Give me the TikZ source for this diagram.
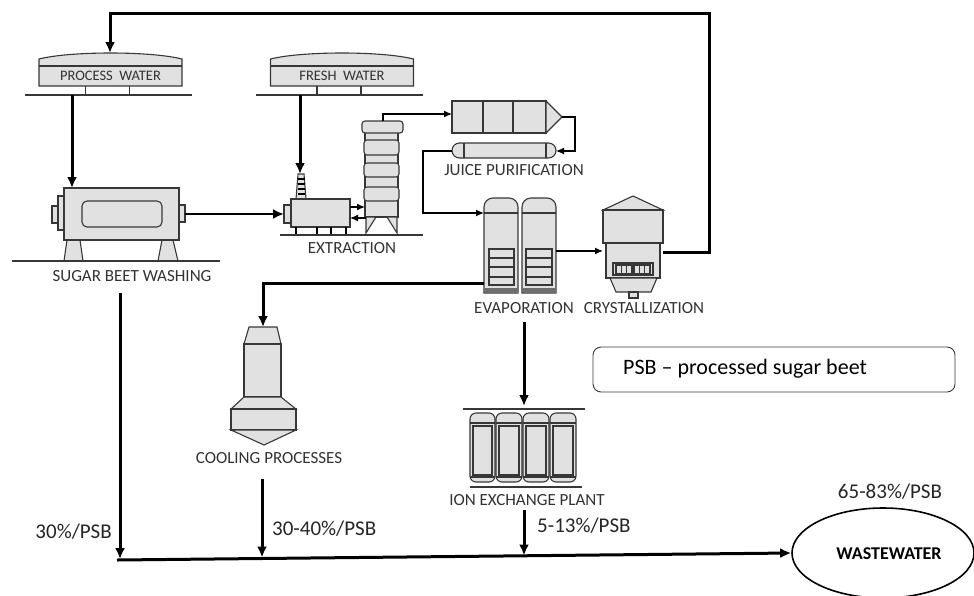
\documentclass[tikz,border=0pt]{standalone}
\usepackage{fontspec}
\setmainfont{Carlito}
\usetikzlibrary{arrows.meta,shapes.geometric}
\definecolor{eqfill}{RGB}{225,225,225}
\definecolor{eqdraw}{RGB}{55,55,55}
\definecolor{labc}{RGB}{50,50,50}
\definecolor{darkband}{RGB}{110,110,110}
\newcommand\myfs[1]{\fontsize{#1}{#1}\selectfont}
\begin{document}
\begin{tikzpicture}[x=1pt,y=-1pt,
  eq/.style={draw=eqdraw,fill=eqfill,line width=1.1pt},
  gline/.style={draw=eqdraw,line width=1.1pt},
  flow/.style={line width=3pt,-{Latex[length=11pt,width=10pt]}},
  thinflow/.style={line width=1.3pt,-{Latex[length=8pt,width=7pt]}},
  lab/.style={font=\myfs{17},text=labc,inner sep=0},
  pct/.style={font=\myfs{21},text=black!85,inner sep=0},
  pics/tank/.style={code={
    \draw[eq] (-71.5,0) -- (-71.5,-27) .. controls (-40,-35) and (40,-35) .. (71.5,-27) -- (71.5,0) -- cycle;
    \draw[gline] (-71.5,-20) -- (71.5,-20);
    \draw[gline] (-25,0) -- (-25,9) (19,0) -- (19,9);
    \draw[gline] (-86,9) -- (81,9);
  }}
]
\useasboundingbox (0,0) rectangle (974,595);

% ---------- tanks ----------
\pic at (110.5,86) {tank};
\node[lab,font=\myfs{14.5}] (pwlab) at (110.5,76) {PROCESS~~WATER};
\pic at (342,86) {tank};
\node[lab,font=\myfs{14.5}] (fwlab) at (342,76) {FRESH~~WATER};
\coordinate (pwtop) at (110,53);
\coordinate (pwout) at (72,95);
\coordinate (fwout) at (300,95);

% ---------- sugar beet washing ----------
\draw[eq] (67,240) -- (80,240) -- (83,261) -- (64,261) -- cycle;
\draw[eq] (162,240) -- (173,240) -- (178,261) -- (158,261) -- cycle;
\draw[eq] (64,188) rectangle (179,240);
\draw[eq,rounded corners=5pt] (82,201) rectangle (162,227);
\draw[eq] (58,196) rectangle (64,230);
\draw[eq] (52,206) rectangle (58,223);
\draw[eq] (179,205) rectangle (185,222);
\draw[gline] (12,261) -- (220,261);
\node[lab] (washlab) at (132,276) {SUGAR BEET WASHING};
\coordinate (washin) at (72,188);
\coordinate (washout) at (185,214);
\coordinate (washbot) at (120,293);

% ---------- extraction ----------
\draw[eq] (298,174) -- (304,174) -- (306,199) -- (296,199) -- cycle;
\foreach \yy in {179,184,189,194} \draw[line width=1.3pt] (297.6,\yy) -- (304.8,\yy);
\draw[eq] (291,199) rectangle (350,227);
\draw[eq] (284,205) rectangle (291,223);
\foreach \xx in {296,317,331,346} \draw[line width=2.2pt] (\xx,227) -- (\xx,235);
\draw[gline] (280,235) -- (423,235);
\node[lab] (exlab) at (352,248) {EXTRACTION};
\coordinate (exin) at (284,214);
\coordinate (chimtop) at (300,174);
% tower
\draw[eq] (365,130) rectangle (398,217);
\draw[eq,rounded corners=3pt] (362,121) rectangle (403,133);
\foreach \a/\b in {140/155,163/177,187/201} \draw[eq,rounded corners=3pt] (364,\a) rectangle (399,\b);
\draw[eq] (366,217) -- (376,217) -- (366,233) -- cycle;
\draw[eq] (397,217) -- (387,217) -- (397,233) -- cycle;
\coordinate (boxr1) at (350,207);
\coordinate (towl1) at (365,207);
\coordinate (towl2) at (366,218);
\coordinate (boxr2) at (350,218);
\coordinate (towtop) at (383,121);

% ---------- juice purification ----------
\draw[eq] (452,101) rectangle (546,133);
\draw[gline] (483,101) -- (483,133) (513,101) -- (513,133);
\draw[eq] (546,101) -- (562,117) -- (546,133) -- cycle;
\draw[eq,rounded corners=7.5pt] (452,143) rectangle (556,158);
\draw[gline] (464,143) -- (464,158) (546,143) -- (546,158);
\node[lab] (jplab) at (514,170) {JUICE PURIFICATION};
\coordinate (jp1in) at (452,114);
\coordinate (jptip) at (562,117);
\coordinate (jpturn) at (575,117);
\coordinate (jp2in) at (556,151);
\coordinate (jp2out) at (452,151);
\coordinate (jpleft) at (423,180);

% ---------- evaporation ----------
\foreach \l/\r in {484/518,522/556} {
  \draw[eq] (\l,293) -- (\l,207) arc[start angle=180,end angle=270,radius=9] -- (\r-9,198)
     arc[start angle=270,end angle=360,radius=9] -- (\r,293) -- cycle;
  \draw[gline] (\l,213) -- (\r,213);
  \fill[darkband] (\l+0.5,288) rectangle (\r-0.5,292.5);
}
\foreach \l/\r in {489/514,526/552} {
  \draw[eq] (\l,249) rectangle (\r,285);
  \draw[gline] (\l,258) -- (\r,258) (\l,267) -- (\r,267) (\l,277) -- (\r,277);
}
\node[lab] (evlab) at (524,308) {EVAPORATION};
\coordinate (evin) at (484,213);
\coordinate (evout) at (556,251);
\coordinate (evleft) at (484,283);
\coordinate (evbot) at (524,322);

% ---------- crystallization ----------
\draw[eq] (603,210) -- (633,196) -- (663,210) -- cycle;
\draw[eq] (603,210) rectangle (663,243);
\draw[eq] (606,243) rectangle (660,278);
\draw[eq] (610,278) -- (657,278) -- (651,292) -- (616,292) -- cycle;
\draw[eq] (629,292) rectangle (638,298);
\draw[eq] (613,263) rectangle (653,275);
\draw[gline] (616,265) rectangle (632,274) (634,265) rectangle (650,274);
\draw[gline] (621.3,265) -- (621.3,274) (626.6,265) -- (626.6,274)
             (639.3,265) -- (639.3,274) (644.6,265) -- (644.6,274);
\node[lab] (crlab) at (644,308) {CRYSTALLIZATION};
\coordinate (crin) at (603,251);
\coordinate (crout) at (663,252);
\coordinate (loopc) at (709,13);

% ---------- cooling ----------
\draw[eq] (249,327) -- (277,327) -- (281,344) -- (244,344) -- cycle;
\draw[eq] (244,344) rectangle (281,397);
\draw[eq] (244,397) -- (281,397) -- (296,409) -- (231,409) -- cycle;
\draw[eq] (231,409) rectangle (296,430);
\draw[eq] (231,430) -- (264,445) -- (296,430) -- cycle;
\node[lab] (coollab) at (269,458) {COOLING PROCESSES};
\coordinate (coolin) at (263,327);
\coordinate (coolout) at (262,479);

% ---------- ion exchange ----------
\draw[gline] (463,409) -- (585,409);
\foreach \l/\r in {470/495,496/522,523/549,550/576} {
  \draw[eq,rounded corners=6pt] (\l,413) rectangle (\r,482);
  \draw[gline] (\l,423) -- (\r,423) (\l,477) -- (\r,477);
  \draw[gline] (\l+3,426) rectangle (\r-3,475);
}
\draw[gline] (470,487) -- (582,487);
\node[lab] (ionlab) at (527,500) {ION EXCHANGE PLANT};
\coordinate (iontop) at (524,406);
\coordinate (ionout) at (524,510);

% ---------- wastewater & legend ----------
\node[ellipse,draw,line width=1.6pt,minimum width=182pt,minimum height=90pt,inner sep=0] (ww) at (883,553) {};
\node[font=\myfs{18}\bfseries,inner sep=0] (wwlab) at (889,554) {WASTEWATER};
\node[pct,anchor=center] (p4) at (890,492) {65-83\%/PSB};
\node[draw=eqdraw,rounded corners=8pt,line width=0.9pt,minimum width=362pt,minimum height=45pt] (legend) at (774,369.5) {};
\node[anchor=west,font=\myfs{22},inner sep=0] (legtext) at (623,369) {PSB – processed sugar beet};

\node[pct,anchor=east] (p1) at (112,532) {30\%/PSB};
\node[pct,anchor=west] (p2) at (272,529) {30-40\%/PSB};
\node[pct,anchor=west] (p3) at (537,526) {5-13\%/PSB};

\coordinate (bl) at (117,560);
\coordinate (t1) at (120,559);
\coordinate (t2) at (262,557.5);
\coordinate (t3) at (524,555.5);

% ---------- connectors ----------
\draw[flow] (pwout) -- (washin);
\draw[flow,line width=2.6pt] (washout) -- (exin);
\draw[flow] (fwout) -- (chimtop);
\draw[thinflow] (boxr1) -- (towl1);
\draw[thinflow] (towl2) -- (boxr2);
\draw[thinflow] (towtop) |- (jp1in);
\draw[thinflow] (jptip) -- (jpturn) |- (jp2in);
\draw[thinflow] (jp2out) -| (jpleft) |- (evin);
\draw[thinflow] (evout) -- (crin);
\draw[flow] (crout) -| (loopc) -| (pwtop);
\draw[flow] (evleft) -| (coolin);
\draw[flow] (evbot) -- (iontop);
\draw[flow] (washbot) -- (t1);
\draw[flow] (coolout) -- (t2);
\draw[flow] (ionout) -- (t3);
\draw[flow] (bl) -- (ww.west);
\end{tikzpicture}
\end{document}
